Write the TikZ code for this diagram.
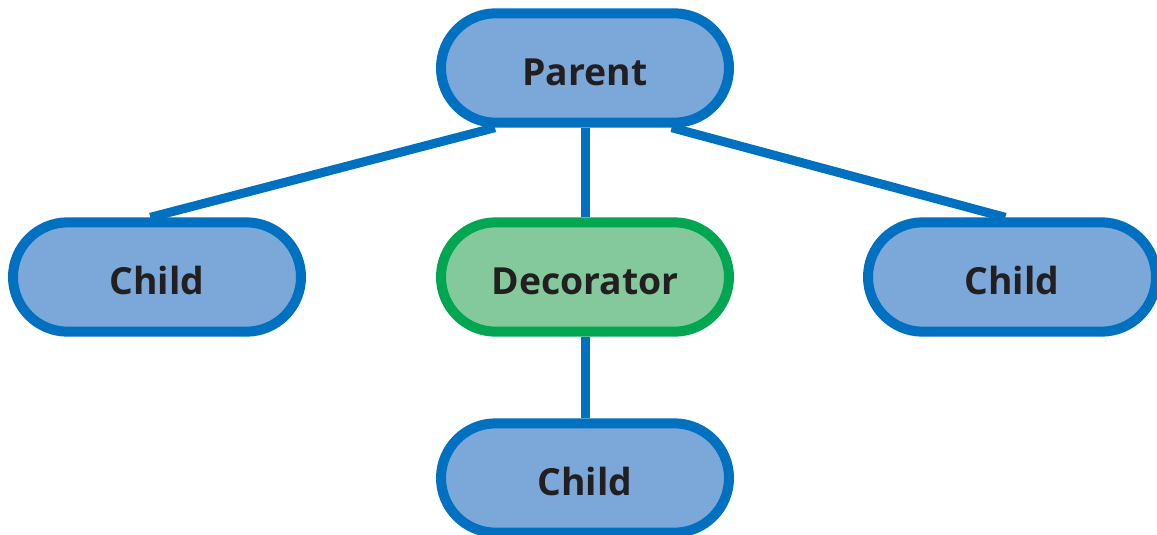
\documentclass[tikz,border=0pt]{standalone}
\usetikzlibrary{shapes.misc}
\usepackage{fontspec}
\setmainfont{Open Sans}
\definecolor{nodeblue}{HTML}{7BA7D9}
\definecolor{edgeblue}{HTML}{0070C0}
\definecolor{nodegreen}{HTML}{84C99B}
\definecolor{edgegreen}{HTML}{00A651}
\definecolor{txt}{HTML}{231F20}
\begin{document}
\begin{tikzpicture}[x=0.75pt,y=-0.75pt,
  pill/.style={rounded rectangle, draw=edgeblue, fill=nodeblue, line width=7.5pt,
    minimum width=216pt, minimum height=82pt, inner sep=0pt,
    text height=26pt, text depth=0pt,
    font=\fontsize{28}{30}\selectfont\bfseries, text=txt},
  deco/.style={pill, draw=edgegreen, fill=nodegreen},
  link/.style={draw=edgeblue, line width=6.75pt}]
\useasboundingbox (0,0) rectangle (1157,535);
\node[pill] (parent) at (585,68) {Parent};
\node[deco] (deco) at (585,277) {Decorator};
\node[pill] (c1) at (157,277) {Child};
\node[pill] (c3) at (1012,277) {Child};
\node[pill] (c2) at (585,478) {Child};
\draw[link] (parent.south) -- (deco.north);
\draw[link] (deco.south) -- (c2.north);
\draw[link] ([xshift=-67.5pt]parent.south) -- ([xshift=-5pt]c1.north);
\draw[link] ([xshift=65pt]parent.south) -- ([xshift=-5pt]c3.north);
\end{tikzpicture}
\end{document}
